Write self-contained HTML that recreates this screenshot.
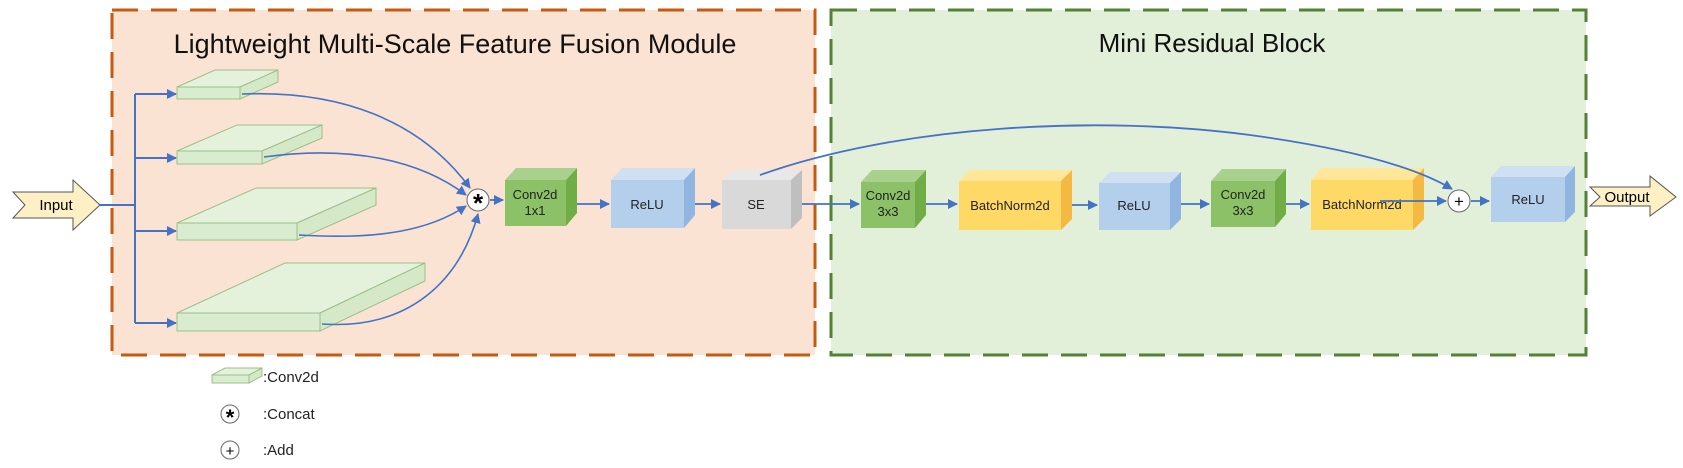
<!DOCTYPE html>
<html><head><meta charset="utf-8"><style>
html,body{margin:0;padding:0;background:#fff;}
svg{display:block;font-family:"Liberation Sans",Arial,sans-serif;}
</style></head><body>
<svg width="1683" height="468" viewBox="0 0 1683 468" xmlns="http://www.w3.org/2000/svg">
<defs>
<marker id="ar" markerWidth="10" markerHeight="10" refX="9" refY="5" orient="auto" markerUnits="userSpaceOnUse">
<path d="M0,0 L10,5 L0,10 z" fill="#4472c4"/></marker>
</defs>
<rect x="112" y="10" width="703" height="345" fill="#fbe3d3" stroke="#c55a11" stroke-width="3" stroke-dasharray="26,13"/>
<rect x="831" y="10" width="755" height="345" fill="#e2efd9" stroke="#538135" stroke-width="3" stroke-dasharray="26,13"/>
<text x="455" y="53" font-size="27" text-anchor="middle" fill="#111">Lightweight Multi-Scale Feature Fusion Module</text>
<text x="1212" y="52" font-size="26" text-anchor="middle" fill="#111">Mini Residual Block</text>

<path d="M13,192 L73,192 L73,180 L100,205 L73,230 L73,218 L13,218 L25,205 z" fill="#fdf0c4" stroke="#555" stroke-width="1"/>
<text x="56" y="210" font-size="15" text-anchor="middle">Input</text>

<g stroke="#4472c4" stroke-width="2" fill="none">
<path d="M100,205 L135,205"/>
<path d="M135,94 L135,323"/>
<path d="M135,94 L176,94" marker-end="url(#ar)"/>
<path d="M135,158 L176,158" marker-end="url(#ar)"/>
<path d="M135,231 L176,231" marker-end="url(#ar)"/>
<path d="M135,323 L176,323" marker-end="url(#ar)"/>
</g>

<g stroke="#9cbf8a" stroke-width="1">
<polygon points="177,87 215,70 278,70 240,87" fill="#e4f2dc"/>
<polygon points="240,87 278,70 278,82 240,99" fill="#d5e9c8"/>
<rect x="177" y="87" width="63" height="12" fill="#d9ecd0"/>
<polygon points="177,151 237,125 322,125 262,151" fill="#e4f2dc"/>
<polygon points="262,151 322,125 322,138 262,164" fill="#d5e9c8"/>
<rect x="177" y="151" width="85" height="13" fill="#d9ecd0"/>
<polygon points="177,223 256,188 376,188 297,223" fill="#e4f2dc"/>
<polygon points="297,223 376,188 376,205 297,240" fill="#d5e9c8"/>
<rect x="177" y="223" width="120" height="17" fill="#d9ecd0"/>
<polygon points="177,313 285,263 425,263 320,313" fill="#e4f2dc"/>
<polygon points="320,313 425,263 425,281 320,331" fill="#d5e9c8"/>
<rect x="177" y="313" width="143" height="18" fill="#d9ecd0"/>
</g>

<g stroke="#4472c4" stroke-width="1.6" fill="none">
<path d="M242,94 C340,90 420,120 470,188" marker-end="url(#ar)"/>
<path d="M264,157 C350,145 420,160 466,195" marker-end="url(#ar)"/>
<path d="M299,235 C380,240 430,230 466,206" marker-end="url(#ar)"/>
<path d="M322,324 C410,330 460,280 478,214" marker-end="url(#ar)"/>
</g>
<circle cx="478" cy="200" r="11" fill="#fff" stroke="#666" stroke-width="1"/>
<text x="478" y="212" font-size="26" font-weight="bold" text-anchor="middle">*</text>

<g font-size="13" text-anchor="middle" fill="#222">
<polygon points="505,180 516,168 577,168 566,180" fill="#a9d18e"/>
<polygon points="566,180 577,168 577,213 566,226" fill="#70ad47"/>
<rect x="505" y="180" width="61" height="46" fill="#8cc168"/>
<text x="535" y="199">Conv2d</text><text x="535" y="215">1x1</text>
<polygon points="611,180 622,168 695,168 684,180" fill="#cfe0f3"/>
<polygon points="684,180 695,168 695,215 684,228" fill="#8fb5e0"/>
<rect x="611" y="180" width="73" height="48" fill="#b4cfec"/>
<text x="647" y="209">ReLU</text>
<polygon points="722,180 733,170 802,170 791,180" fill="#e8e8e8"/>
<polygon points="791,180 802,170 802,218 791,229" fill="#bfbfbf"/>
<rect x="722" y="180" width="69" height="49" fill="#d9d9d9"/>
<text x="756" y="209">SE</text>
<polygon points="861,182 872,170 926,170 915,182" fill="#a9d18e"/>
<polygon points="915,182 926,170 926,215 915,228" fill="#70ad47"/>
<rect x="861" y="182" width="54" height="46" fill="#8cc168"/>
<text x="888" y="200">Conv2d</text><text x="888" y="216">3x3</text>
<polygon points="959,181 970,170 1072,170 1061,181" fill="#ffe699"/>
<polygon points="1061,181 1072,170 1072,219 1061,230" fill="#f4b942"/>
<rect x="959" y="181" width="102" height="49" fill="#ffd966"/>
<text x="1010" y="210">BatchNorm2d</text>
<polygon points="1099,183 1110,172 1181,172 1170,183" fill="#cfe0f3"/>
<polygon points="1170,183 1181,172 1181,219 1170,230" fill="#8fb5e0"/>
<rect x="1099" y="183" width="71" height="47" fill="#b4cfec"/>
<text x="1134" y="210">ReLU</text>
<polygon points="1211,181 1222,169 1286,169 1275,181" fill="#a9d18e"/>
<polygon points="1275,181 1286,169 1286,214 1275,227" fill="#70ad47"/>
<rect x="1211" y="181" width="64" height="46" fill="#8cc168"/>
<text x="1243" y="199">Conv2d</text><text x="1243" y="215">3x3</text>
<polygon points="1311,180 1322,168 1424,168 1413,180" fill="#ffe699"/>
<polygon points="1413,180 1424,168 1424,219 1413,230" fill="#f4b942"/>
<rect x="1311" y="180" width="102" height="50" fill="#ffd966"/>
<text x="1362" y="209">BatchNorm2d</text>
<polygon points="1491,177 1501,166 1575,166 1565,177" fill="#cfe0f3"/>
<polygon points="1565,177 1575,166 1575,212 1565,222" fill="#8fb5e0"/>
<rect x="1491" y="177" width="74" height="45" fill="#b4cfec"/>
<text x="1528" y="204">ReLU</text>
</g>

<g stroke="#4472c4" stroke-width="1.8" fill="none">
<path d="M490,200 L503,200" marker-end="url(#ar)"/>
<path d="M577,204 L609,204" marker-end="url(#ar)"/>
<path d="M695,204 L720,204" marker-end="url(#ar)"/>
<path d="M802,204 L859,204" marker-end="url(#ar)"/>
<path d="M926,204 L957,204" marker-end="url(#ar)"/>
<path d="M1072,205 L1097,205" marker-end="url(#ar)"/>
<path d="M1181,204 L1209,204" marker-end="url(#ar)"/>
<path d="M1286,204 L1309,204" marker-end="url(#ar)"/>
<path d="M1380,201 L1446,201" marker-end="url(#ar)"/>
<path d="M1471,201 L1489,201" marker-end="url(#ar)"/>
<path d="M760,175 C900,125 1100,115 1250,135 C1360,150 1420,170 1452,189" marker-end="url(#ar)"/>
</g>
<circle cx="1459" cy="201" r="11" fill="#fff" stroke="#666" stroke-width="1"/>
<text x="1459" y="207" font-size="17" text-anchor="middle">+</text>

<path d="M1590,187 L1650,187 L1650,176 L1676,197 L1650,216 L1650,206 L1590,206 L1600,197 z" fill="#fdf0c4" stroke="#555" stroke-width="1"/>
<text x="1627" y="202" font-size="15" text-anchor="middle">Output</text>

<g stroke="#9cbf8a" stroke-width="1">
<polygon points="212,375 225,368 262,368 249,375" fill="#e4f2dc"/>
<polygon points="249,375 262,368 262,376 249,383" fill="#d5e9c8"/>
<rect x="212" y="375" width="37" height="8" fill="#d9ecd0"/>
</g>
<text x="263" y="382" font-size="15" fill="#222">:Conv2d</text>
<circle cx="230" cy="414" r="9" fill="#fff" stroke="#666"/>
<text x="230" y="425" font-size="22" font-weight="bold" text-anchor="middle">*</text>
<text x="263" y="419" font-size="15" fill="#222">:Concat</text>
<circle cx="230" cy="450" r="9" fill="#fff" stroke="#666"/>
<text x="230" y="456" font-size="15" text-anchor="middle">+</text>
<text x="263" y="455" font-size="15" fill="#222">:Add</text>
</svg>
</body></html>
